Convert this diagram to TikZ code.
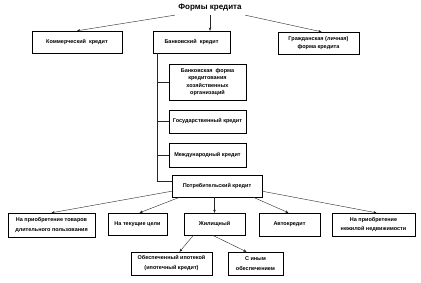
\documentclass[tikz,border=0pt]{standalone}
\usepackage{fontspec}
\setmainfont{Liberation Sans}
\usepackage{tikz}
\usetikzlibrary{positioning,calc,shadows,arrows.meta}

\begin{document}
\begin{tikzpicture}[x=1pt, y=-1pt,
    box/.style={draw=black, line width=0.4pt, fill=white, align=center, inner sep=0pt,
      drop shadow={shadow xshift=0.9pt, shadow yshift=-0.9pt, fill=black!65, opacity=1},
      font=\fontsize{5.5}{8.5}\selectfont\bfseries},
    arr/.style={-{Stealth[length=3.2pt,width=2.6pt]}, line width=0.4pt, draw=black!85},
    link/.style={line width=0.4pt, draw=black!85}]
      \useasboundingbox (0,0) rectangle (421,282);
      \node (title) at (210,8) [font=\fontsize{8}{9}\selectfont\bfseries] {Формы кредита};
      % top row
      \node (comm) at (77,42) [box, minimum width=90pt, minimum height=22pt] {Коммерческий\ \ кредит};
      \node (bank) at (191.5,42) [box, minimum width=77pt, minimum height=22pt] {Банковский\ \ кредит};
      \node (civil) at (318.5,43) [box, minimum width=81pt, minimum height=22pt] {Гражданская (личная)\\форма кредита};
      % bank forms
      \node (bform) at (207.5,82) [box, minimum width=77pt, minimum height=36pt,
        font=\fontsize{5.5}{7.6}\selectfont\bfseries] {Банковская\ \ форма\\кредитования\\хозяйственных\\организаций};
      \node (gov) at (207.5,121.5) [box, minimum width=77pt, minimum height=23pt] {Государственный кредит};
      \node (intl) at (207.5,155) [box, minimum width=77pt, minimum height=24pt] {Международный кредит};
      \node (cons) at (217,186) [box, minimum width=90pt, minimum height=22pt] {Потребительский кредит};
      % consumer credit kinds
      \node (goods) at (51.5,225) [box, minimum width=87pt, minimum height=24pt,
        font=\fontsize{5.5}{10}\selectfont\bfseries] {На приобретение товаров\\длительного пользования};
      \node (curr) at (137.5,224) [box, minimum width=59pt, minimum height=22pt] {На текущие цели};
      \node (house) at (214.5,224) [box, minimum width=61pt, minimum height=22pt] {Жилищный};
      \node (auto) at (289.5,224.5) [box, minimum width=61pt, minimum height=23pt] {Автокредит};
      \node (estate) at (373.5,224.5) [box, minimum width=83pt, minimum height=23pt] {На приобретение\\нежилой недвижимости};
      % housing credit
      \node (mort) at (171.5,263.5) [box, minimum width=81pt, minimum height=23pt,
        font=\fontsize{5.5}{10}\selectfont\bfseries] {Обеспеченный ипотекой\\(ипотечный кредит)};
      \node (other) at (255.5,263.5) [box, minimum width=55pt, minimum height=23pt,
        font=\fontsize{5.5}{10}\selectfont\bfseries] {С иным\\обеспечением};

      \draw[arr] (title.south west) -- (comm.north);
      \draw[arr] (title.south) -- (title.south |- bank.north);
      \draw[arr] (title.south east) -- ($(civil.north)+(3,0)$);

      \coordinate (trunk) at ($(bank.south west)+(4,0)$);
      \coordinate (conin) at ($(cons.north west)!0.27!(cons.south west)$);
      \draw[link] (trunk) |- (conin);
      \draw[link] (trunk |- bform.west) -- (bform.west);
      \draw[link] (trunk |- gov.west) -- (gov.west);
      \draw[link] (trunk |- intl.west) -- (intl.west);

      \draw[arr] ($(cons.south west)+(0,-6)$) -- (goods.north);
      \draw[arr] ($(cons.south west)+(8,0)$) -- ($(curr.north)+(2,0)$);
      \draw[arr] (house.north |- cons.south) -- (house.north);
      \draw[arr] ($(cons.south east)+(-9,0)$) -- ($(auto.north)+(-1,0)$);
      \draw[arr] ($(cons.south east)+(0,-6)$) -- ($(estate.north)+(3,0)$);

      \draw[arr] ($(house.south)+(-21,0)$) -- ($(mort.north)+(8,0)$);
      \draw[arr] ($(house.south)+(-2,0)$) -- ($(other.north)+(-9,0)$);
    \end{tikzpicture}
\end{document}
